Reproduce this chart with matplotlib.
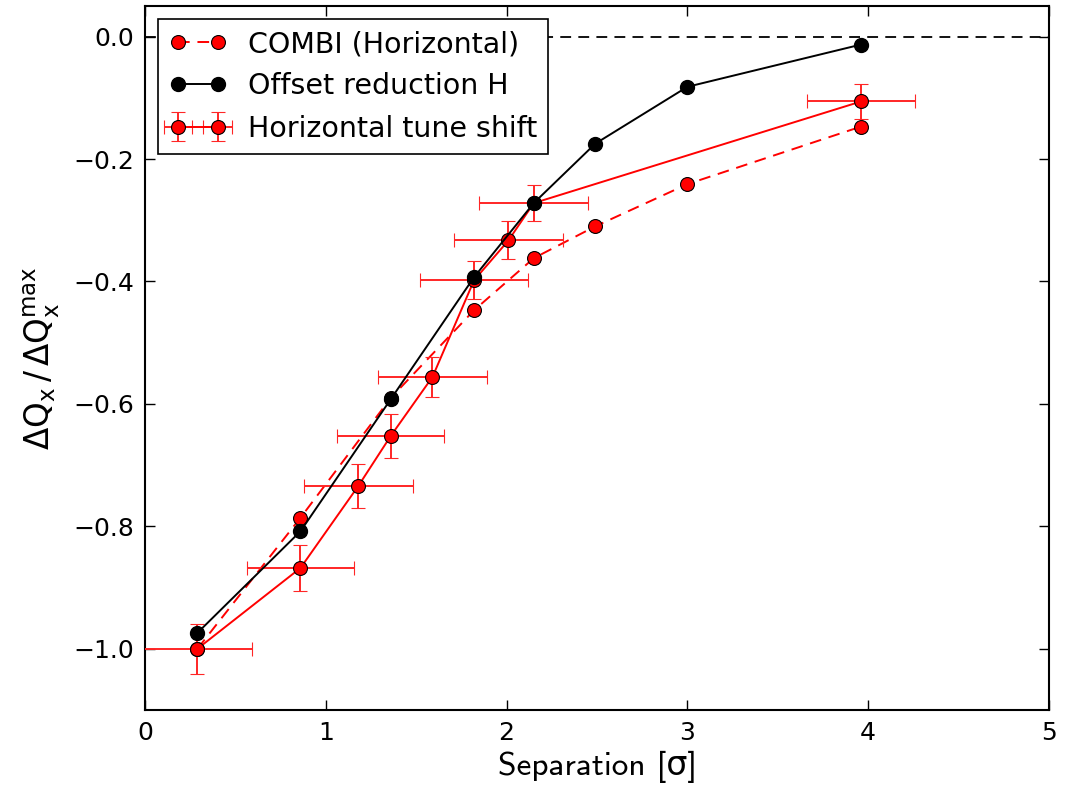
import matplotlib
matplotlib.use("Agg")
import matplotlib.pyplot as plt

# COMBI (Horizontal)
combi_x = [0.29, 0.86, 1.36, 1.82, 2.15, 2.49, 3.0, 3.96]
combi_y = [-1.0, -0.786, -0.590, -0.447, -0.362, -0.310, -0.241, -0.147]

# Offset reduction H
offset_x = [0.29, 0.86, 1.36, 1.82, 2.15, 2.49, 3.0, 3.96]
offset_y = [-0.974, -0.808, -0.592, -0.393, -0.272, -0.175, -0.082, -0.013]

# Horizontal tune shift (measurement)
tune_x = [0.29, 0.86, 1.18, 1.36, 1.59, 1.82, 2.01, 2.15, 3.96]
tune_y = [-1.0, -0.868, -0.734, -0.652, -0.556, -0.398, -0.333, -0.272, -0.106]
tune_xerr = [0.30, 0.296, 0.30, 0.296, 0.30, 0.30, 0.30, 0.30, 0.30]
tune_yerr = [0.041, 0.038, 0.036, 0.036, 0.033, 0.031, 0.031, 0.030, 0.029]

xticks = [0, 1, 2, 3, 4, 5]
yticks = [-1.0, -0.8, -0.6, -0.4, -0.2, 0.0]

plt.rcParams['font.family'] = ['DejaVu Sans']
plt.rcParams['axes.linewidth'] = 1.5

fig = plt.figure(figsize=(10.75, 7.89), dpi=100)
ax = fig.add_axes([145/1075, 1 - 710/789, (1049-145)/1075, (710-6)/789])

ax.axhline(0.0, color='black', linestyle='--', dashes=(6, 4), linewidth=1.3, zorder=1)

ax.plot(combi_x, combi_y, color='red', linestyle='--', dashes=(6, 4), linewidth=1.4,
        marker='o', markersize=10, markerfacecolor='red', markeredgecolor='black',
        markeredgewidth=0.8, label='COMBI (Horizontal)', zorder=3)
ax.plot(offset_x, offset_y, color='black', linestyle='-', linewidth=1.4,
        marker='o', markersize=10, markerfacecolor='black', markeredgecolor='black',
        label='Offset reduction H', zorder=4)
ax.errorbar(tune_x, tune_y, xerr=tune_xerr, yerr=tune_yerr, color='red', linestyle='-',
            linewidth=1.4, elinewidth=1.4, ecolor=(1.0, 0.15, 0.15), capsize=5, capthick=1.2,
            marker='o', markersize=10, markerfacecolor='red', markeredgecolor='black',
            markeredgewidth=0.8, label='Horizontal tune shift', zorder=3)

ax.set_xlim(0, 5)
ax.set_ylim(-1.1, 0.05)
ax.set_xticks(xticks)
ax.set_xticklabels([str(t) for t in xticks])
ax.set_yticks(yticks)
ax.set_yticklabels(['\u2212%.1f' % abs(t) if t < 0 else '%.1f' % t for t in yticks])
ax.tick_params(direction='in', top=True, right=True, length=7, width=1, labelsize=18, pad=8)

ax.set_xlabel('Separation [σ]', fontsize=24, family=['cmss10', 'DejaVu Sans'], labelpad=4)
ax.set_ylabel(r'$\mathrm{\Delta Q_x\,/\,\Delta Q_x^{max}}$', fontsize=23.5,
              math_fontfamily='dejavusans', labelpad=8)

leg = ax.legend(loc='upper left', numpoints=2, fontsize=20.5, fancybox=False,
                framealpha=1, edgecolor='black', handlelength=2.0,
                borderaxespad=0.45, handletextpad=0.75, labelspacing=0.5,
                borderpad=0.4)
leg.get_frame().set_linewidth(1.2)

fig.savefig('out.png', dpi=100)
